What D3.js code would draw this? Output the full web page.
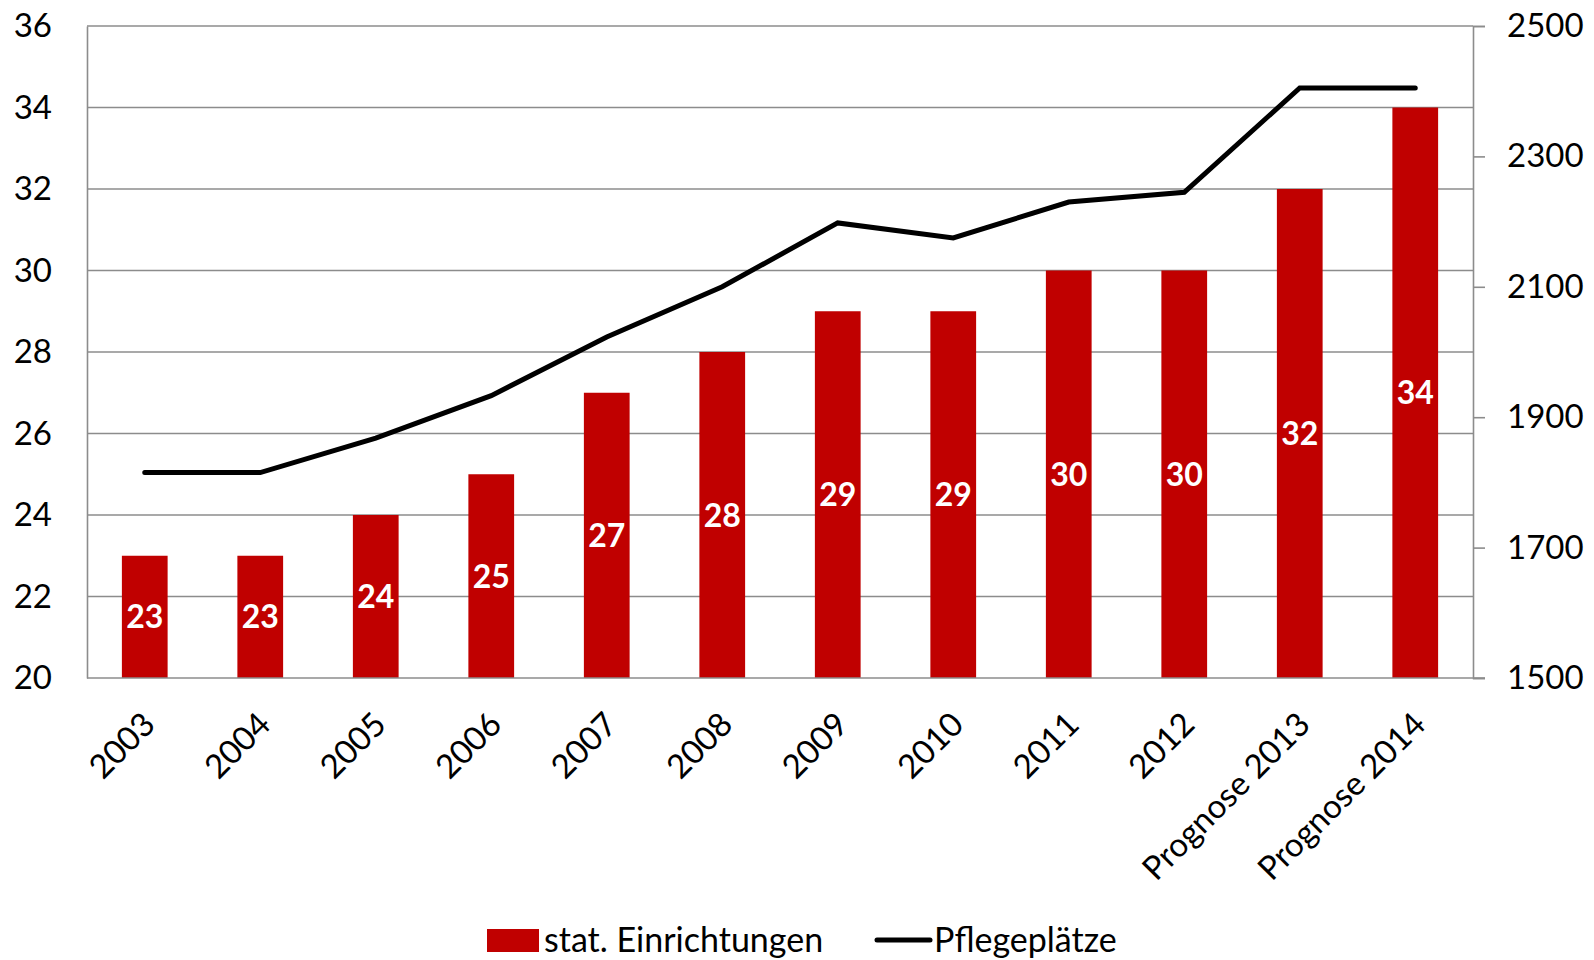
<!DOCTYPE html>
<html lang="de">
<head>
<meta charset="UTF-8">
<title>Einrichtungen und Pflegeplätze</title>
<style>
  body { margin: 0; background: #fff; }
  text { font-family: Lato, "Open Sans", sans-serif; }
</style>
</head>
<body>
<script src="https://d3js.org/d3.v7.min.js"></script>
<script>
// daten
var jahre = ["2003","2004","2005","2006","2007","2008","2009","2010","2011","2012","Prognose 2013","Prognose 2014"];
var einrichtungen = [23,23,24,25,27,28,29,29,30,30,32,34];
var pflegeplaetze = [1815,1815,1868,1933,2023,2100,2198,2175,2230,2245,2405,2405];
var linksTicks = [20,22,24,26,28,30,32,34,36];
var rechtsTicks = [1500,1700,1900,2100,2300,2500];

var width = 1594, height = 960;
var plot = {left: 87, right: 1473, top: 26, bottom: 678};
var grau = "#8c8c8c";
var rot = "#c00000";

var svg = d3.select("body").append("svg")
    .attr("width", width).attr("height", height);
svg.append("rect").attr("width", width).attr("height", height).attr("fill", "#fff");

var x = d3.scaleBand().domain(jahre).range([plot.left, plot.right]).padding(0);
var yL = d3.scaleLinear().domain([20,36]).range([plot.bottom, plot.top]);
var yR = d3.scaleLinear().domain([1500,2500]).range([plot.bottom, plot.top]);

// gitterlinien
svg.append("g").selectAll("line").data(linksTicks.slice(1)).enter().append("line")
    .attr("x1", plot.left).attr("x2", plot.right)
    .attr("y1", function(d){ return yL(d); }).attr("y2", function(d){ return yL(d); })
    .attr("stroke", grau).attr("stroke-width", 1.6);

// linke achse
var axL = svg.append("g").attr("transform", "translate(" + plot.left + ",0)")
    .call(d3.axisLeft(yL).tickValues(linksTicks).tickSize(0).tickPadding(35));
axL.select(".domain").attr("stroke", grau).attr("stroke-width", 1.6);
axL.selectAll("text").attr("font-size", 33).attr("fill", "#000").attr("font-family", "Lato");

// rechte achse
var axR = svg.append("g").attr("transform", "translate(" + plot.right + ",0)")
    .call(d3.axisRight(yR).tickValues(rechtsTicks).tickFormat(d3.format("d")).tickSize(12).tickPadding(22));
axR.select(".domain").attr("stroke", grau).attr("stroke-width", 1.6);
axR.selectAll("line").attr("stroke", grau).attr("stroke-width", 1.6);
axR.selectAll("text").attr("font-size", 33).attr("fill", "#000").attr("font-family", "Lato");

// balken
var bw = x.bandwidth() * 0.396;
svg.append("g").selectAll("rect").data(jahre).enter().append("rect")
    .attr("x", function(d){ return x(d) + x.bandwidth()/2 - bw/2; })
    .attr("width", bw)
    .attr("y", function(d,i){ return yL(einrichtungen[i]); })
    .attr("height", function(d,i){ return yL(20) - yL(einrichtungen[i]); })
    .attr("fill", rot);

// untere achse
var axB = svg.append("g").attr("transform", "translate(0," + plot.bottom + ")")
    .call(d3.axisBottom(x).tickSize(0).tickPadding(0));
axB.select(".domain").attr("d", "M" + plot.left + ",0H" + (plot.right + 12))
    .attr("stroke", grau).attr("stroke-width", 1.6);
axB.selectAll("text")
    .attr("font-size", 33).attr("fill", "#000").attr("font-family", "Lato")
    .attr("text-anchor", "end")
    .attr("transform", "translate(-4,32) rotate(-45)")
    .attr("dy", "0.7em");

// beschriftung in balken
svg.append("g").selectAll("text").data(jahre).enter().append("text")
    .attr("x", function(d){ return x(d) + x.bandwidth()/2; })
    .attr("y", function(d,i){ return (yL(einrichtungen[i]) + yL(20)) / 2; })
    .attr("dy", "0.36em")
    .attr("text-anchor", "middle")
    .attr("font-size", 32).attr("font-weight", "bold").attr("fill", "#fff")
    .text(function(d,i){ return einrichtungen[i]; });

// linie
var linie = d3.line()
    .x(function(d,i){ return x(jahre[i]) + x.bandwidth()/2; })
    .y(function(d){ return yR(d); });
svg.append("path").datum(pflegeplaetze)
    .attr("d", linie)
    .attr("fill", "none").attr("stroke", "#000").attr("stroke-width", 5)
    .attr("stroke-linecap", "round").attr("stroke-linejoin", "miter");

// legende
var leg = svg.append("g");
leg.append("rect").attr("x", 487).attr("y", 929).attr("width", 52).attr("height", 23).attr("fill", rot);
leg.append("text").attr("x", 544).attr("y", 952).attr("font-size", 34).text("stat. Einrichtungen");
leg.append("line").attr("x1", 877).attr("x2", 930).attr("y1", 940).attr("y2", 940)
    .attr("stroke", "#000").attr("stroke-width", 5).attr("stroke-linecap", "round");
leg.append("text").attr("x", 934).attr("y", 952).attr("font-size", 34).text("Pflegeplätze");
</script>
</body>
</html>
